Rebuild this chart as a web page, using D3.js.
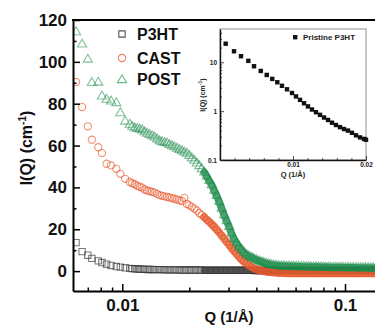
<!DOCTYPE html>
<html>
<head>
<meta charset="utf-8">
<script src="https://cdn.jsdelivr.net/npm/d3@7"></script>
<style>
body { margin: 0; background: #fff; }
text { font-family: Arial, "Liberation Sans", sans-serif; font-weight: bold; }
</style>
</head>
<body>
<svg id="chart" width="375" height="325"></svg>
<script>
// main plot data, Q in 1/A
var q = [0.0062, 0.0066, 0.0070, 0.0073, 0.0078, 0.0081, 0.0085, 0.0089, 0.0094, 0.0098, 0.0103,
    0.0108, 0.01108, 0.01137, 0.01167, 0.01197, 0.01228, 0.0126, 0.01293, 0.01326, 0.01361,
    0.01396, 0.01433, 0.0147, 0.01508, 0.01547, 0.01588, 0.01629, 0.01671, 0.01715, 0.0176,
    0.01805, 0.01852, 0.019, 0.0195, 0.02, 0.02052, 0.02106, 0.02161, 0.02217, 0.02274,
    0.02334, 0.02394, 0.02457, 0.02521, 0.02586, 0.02653, 0.02722, 0.02793, 0.02866, 0.0294,
    0.03017, 0.03095, 0.03176, 0.03258, 0.03343, 0.0343, 0.03519, 0.03611, 0.03705, 0.03801,
    0.039, 0.04001, 0.04105, 0.04212, 0.04322, 0.04434, 0.04549, 0.04668, 0.04789, 0.04914,
    0.05041, 0.05172, 0.05307, 0.05445, 0.05586, 0.05732, 0.05881, 0.06034, 0.06191, 0.06352,
    0.06517, 0.06686, 0.0686, 0.07038, 0.07221, 0.07409, 0.07602, 0.078, 0.08003, 0.08211,
    0.08424, 0.08643, 0.08868, 0.09099, 0.09335, 0.09578, 0.09827, 0.10082, 0.10344, 0.10613,
    0.10889, 0.11172, 0.11463, 0.11761, 0.12067, 0.1238, 0.12702, 0.13033, 0.13372, 0.1372];

var p3ht = [13.6, 9.3, 7.6, 6.1, 4.9, 4.1, 3.3, 2.7, 2.2, 1.9, 1.6,
    1.3, 1.2, 1.1, 1.0, 1.0, 0.9, 0.9, 0.8, 0.8, 0.8,
    0.7, 0.7, 0.7, 0.7, 0.6, 0.6, 0.6, 0.6, 0.6, 0.6,
    0.5, 0.5, 0.5, 0.5, 0.5, 0.5, 0.5, 0.5, 0.5, 0.5,
    0.4, 0.4, 0.4, 0.4, 0.4, 0.4, 0.4, 0.4, 0.4, 0.4,
    0.4, 0.4, 0.4, 0.4, 0.4, 0.4, 0.4, 0.4, 0.4, 0.4,
    0.3, 0.3, 0.3, 0.3, 0.3, 0.3, 0.3, 0.3, 0.3, 0.3,
    0.3, 0.3, 0.3, 0.3, 0.3, 0.3, 0.3, 0.3, 0.3, 0.3,
    0.3, 0.3, 0.3, 0.3, 0.3, 0.3, 0.3, 0.3, 0.3, 0.3,
    0.3, 0.3, 0.3, 0.3, 0.3, 0.3, 0.3, 0.3, 0.3, 0.3,
    0.3, 0.3, 0.3, 0.3, 0.3, 0.3, 0.3, 0.3, 0.3, 0.3];

var cast = [90.4, 78.4, 69.2, 62.8, 59.2, 56.4, 51.3, 50.5, 48.9, 46.5, 44.1,
    42.6, 42.0, 41.5, 40.8, 40.3, 39.9, 39.0, 38.5, 38.2, 37.9,
    37.5, 36.9, 36.3, 36.0, 35.7, 35.5, 35.2, 34.9, 34.6, 34.2,
    33.8, 33.5, 35.0, 32.1, 31.4, 30.7, 29.9, 28.9, 27.8, 26.8,
    25.8, 24.6, 23.6, 22.4, 21.2, 19.9, 18.5, 17.0, 15.5, 14.0,
    12.6, 11.0, 9.6, 8.2, 6.8, 5.5, 4.5, 3.6, 2.8, 2.0,
    1.4, 0.9, 0.5, 0.2, 0.0, -0.2, -0.4, -0.5, -0.6, -0.7,
    -0.8, -0.8, -0.9, -0.9, -1.0, -1.0, -1.0, -1.0, -1.0, -1.0,
    -1.0, -1.0, -1.0, -1.0, -1.0, -1.0, -1.0, -1.0, -1.0, -1.0,
    -1.0, -1.0, -1.0, -1.0, -1.0, -1.0, -1.0, -1.0, -1.0, -1.0,
    -1.0, -1.0, -1.0, -1.0, -1.0, -1.0, -1.0, -1.0, -1.0, -1.0];

var post = [114.7, 108.8, 101.6, 90.4, 90.6, 84.0, 82.4, 81.6, 80.8, 76.0, 72.0,
    70.5, 69.5, 68.8, 68.5, 68.2, 67.8, 66.9, 66.2, 65.6, 65.0,
    64.4, 63.5, 62.6, 62.2, 61.8, 61.5, 60.8, 60.2, 59.7, 59.1,
    58.5, 57.8, 57.2, 56.6, 55.6, 54.4, 53.3, 52.0, 50.7, 49.3,
    47.7, 45.8, 43.6, 41.6, 39.0, 36.5, 33.6, 30.4, 27.3, 24.4,
    21.6, 18.5, 15.9, 13.9, 12.1, 10.6, 9.3, 8.3, 7.6, 7.0,
    6.4, 5.8, 5.3, 4.9, 4.5, 4.1, 3.8, 3.5, 3.3, 3.1,
    3.0, 2.9, 2.9, 2.8, 2.8, 2.7, 2.7, 2.6, 2.6, 2.6,
    2.5, 2.5, 2.5, 2.4, 2.4, 2.4, 2.4, 2.3, 2.3, 2.3,
    2.3, 2.2, 2.2, 2.2, 2.2, 2.2, 2.1, 2.1, 2.1, 2.1,
    2.1, 2.0, 2.0, 2.0, 2.0, 2.0, 2.0, 1.9, 1.9, 1.9];

var xMajor = [0.01, 0.1];
var xMinor = [0.007, 0.008, 0.009, 0.02, 0.03, 0.04, 0.05, 0.06, 0.07, 0.08, 0.09];
var yMajor = [0, 20, 40, 60, 80, 100, 120];
var yMinor = [10, 30, 50, 70, 90, 110];

// inset data (pristine P3HT)
var insetQ = [0.00078, 0.00192, 0.00288, 0.00388, 0.00466, 0.00558, 0.0064, 0.00716, 0.00785,
    0.00849, 0.00918, 0.00986, 0.01041, 0.01096, 0.01151, 0.01205, 0.0126, 0.01315, 0.0137,
    0.01425, 0.0148, 0.01534, 0.01589, 0.01644, 0.01699, 0.01753, 0.01808, 0.01863, 0.01918,
    0.01973, 0.0200];
var insetI = [24, 16.8, 13.3, 10.7, 8.3, 6.65, 5.5, 4.57, 3.9,
    3.3, 2.8, 2.35, 2.0, 1.7, 1.45, 1.25, 1.08, 0.95, 0.84,
    0.74, 0.66, 0.58, 0.52, 0.47, 0.43, 0.40, 0.36, 0.32, 0.29,
    0.27, 0.26];
var insetXMajor = [0.01, 0.02];
var insetXMinor = [0.002, 0.004, 0.006, 0.008, 0.012, 0.014, 0.016, 0.018];
var insetYMajor = [0.1, 1, 10];
var insetYMinor = [0.2, 0.3, 0.4, 0.5, 0.6, 0.7, 0.8, 0.9, 2, 3, 4, 5, 6, 7, 8, 9, 20, 30, 40];

var svg = d3.select("#chart");

var pL = 73, pR = 375, pT = 20, pB = 291;
// above this Q the measured points sit so close that they merge into a band
var denseFrom = 0.023;

var x = d3.scaleLog().domain([0.006007, 0.13637]).range([pL, pR]);
var y = d3.scaleLinear().domain([-9.5, 120]).range([pB, pT]);

svg.append("clipPath").attr("id", "clip")
    .append("rect").attr("x", pL).attr("y", pT - 10)
    .attr("width", pR - pL + 5).attr("height", pB - pT + 10);

var plot = svg.append("g").attr("clip-path", "url(#clip)");

var sq = d3.symbol(d3.symbolSquare).size(40);
var tri = d3.symbol(d3.symbolTriangle).size(36);

function pts(vals) {
    return q.map(function(d, i) { return { q: d, v: vals[i] }; });
}

function band(vals, color, width, dy) {
    var line = d3.line()
        .x(function(d) { return x(d.q); })
        .y(function(d) { return y(d.v) + dy; })
        .curve(d3.curveMonotoneX);
    plot.append("path")
        .datum(pts(vals).filter(function(d) { return d.q >= denseFrom; }))
        .attr("d", line)
        .attr("fill", "none")
        .attr("stroke", color)
        .attr("stroke-width", width)
        .attr("stroke-linecap", "round")
        .attr("stroke-opacity", 0.8);
}

// P3HT squares
band(p3ht, "#4a4a4a", 6.5, 0);
plot.append("g").selectAll("path")
    .data(pts(p3ht))
    .enter().append("path")
    .attr("d", sq)
    .attr("transform", function(d) { return "translate(" + x(d.q) + "," + y(d.v) + ")"; })
    .attr("fill", "none")
    .attr("stroke", "#333")
    .attr("stroke-opacity", 0.65)
    .attr("stroke-width", 1.1);

// CAST circles
band(cast, "#e5602f", 7, 0);
plot.append("g").selectAll("circle")
    .data(pts(cast))
    .enter().append("circle")
    .attr("cx", function(d) { return x(d.q); })
    .attr("cy", function(d) { return y(d.v); })
    .attr("r", 3.6)
    .attr("fill", "none")
    .attr("stroke", "#e8552a")
    .attr("stroke-opacity", 0.65)
    .attr("stroke-width", 1.1);

// POST triangles
band(post, "#1f8c4c", 7.5, 1);
plot.append("g").selectAll("path")
    .data(pts(post))
    .enter().append("path")
    .attr("d", tri)
    .attr("transform", function(d) { return "translate(" + x(d.q) + "," + (y(d.v) + 1) + ")"; })
    .attr("fill", "none")
    .attr("stroke", "#1a8a48")
    .attr("stroke-opacity", 0.55)
    .attr("stroke-width", 1.1);

// axes
var gx = svg.append("g").attr("transform", "translate(0," + pB + ")");
gx.call(d3.axisBottom(x).tickValues(xMinor).tickSizeInner(-3.5).tickSizeOuter(0).tickFormat(""));
gx.select(".domain").remove();
var gx2 = svg.append("g").attr("transform", "translate(0," + pB + ")");
gx2.call(d3.axisBottom(x).tickValues(xMajor).tickSizeInner(-7).tickSizeOuter(0)
    .tickPadding(8).tickFormat(d3.format("~g")));

var gy = svg.append("g").attr("transform", "translate(" + pL + ",0)");
gy.call(d3.axisLeft(y).tickValues(yMinor).tickSizeInner(-3.5).tickSizeOuter(0).tickFormat(""));
gy.select(".domain").remove();
var gy2 = svg.append("g").attr("transform", "translate(" + pL + ",0)");
gy2.call(d3.axisLeft(y).tickValues(yMajor).tickSizeInner(-7).tickSizeOuter(0).tickPadding(6));

svg.selectAll(".tick line").attr("stroke", "#000").attr("stroke-width", 1.5);
svg.selectAll(".domain").attr("stroke", "#000").attr("stroke-width", 2);
gx2.selectAll("text").attr("font-size", 17).attr("fill", "#111");
gy2.selectAll("text").attr("font-size", 17).attr("fill", "#111");

svg.append("line")
    .attr("x1", pL - 1).attr("x2", pR + 2)
    .attr("y1", pT).attr("y2", pT)
    .attr("stroke", "#000").attr("stroke-width", 2);

// axis titles
var yl = svg.append("text")
    .attr("transform", "translate(32,148) rotate(-90)")
    .attr("text-anchor", "middle")
    .attr("font-size", 16)
    .attr("fill", "#111");
yl.append("tspan").text("I(Q) (cm");
yl.append("tspan").attr("font-size", 10).attr("dy", -6).text("-1");
yl.append("tspan").attr("dy", 6).text(")");

svg.append("text")
    .attr("x", 229).attr("y", 322)
    .attr("text-anchor", "middle")
    .attr("font-size", 15)
    .attr("fill", "#111")
    .text("Q (1/Å)");

// legend
var legend = [
    { name: "P3HT", y: 34 },
    { name: "CAST", y: 58 },
    { name: "POST", y: 79 }
];
var lg = svg.append("g");
lg.append("path").attr("d", sq)
    .attr("transform", "translate(122," + legend[0].y + ")")
    .attr("fill", "none").attr("stroke", "#555").attr("stroke-width", 1.1);
lg.append("circle").attr("cx", 122).attr("cy", legend[1].y).attr("r", 3.6)
    .attr("fill", "none").attr("stroke", "#ee7a58").attr("stroke-width", 1.1);
lg.append("path").attr("d", tri)
    .attr("transform", "translate(122," + (legend[2].y + 1) + ")")
    .attr("fill", "none").attr("stroke", "#6cbc84").attr("stroke-width", 1.1);
lg.selectAll("text")
    .data(legend)
    .enter().append("text")
    .attr("x", 137)
    .attr("y", function(d) { return d.y + 6; })
    .attr("font-size", 16)
    .attr("fill", "#111")
    .text(function(d) { return d.name; });

// inset
var iL = 220, iR = 366, iT = 29, iB = 160;
var ix = d3.scaleLinear().domain([0, 0.02]).range([iL, iR]);
var iy = d3.scaleLog().domain([0.1, 48]).range([iB, iT]);

var inset = svg.append("g");
inset.append("rect")
    .attr("x", iL).attr("y", iT)
    .attr("width", iR - iL).attr("height", iB - iT)
    .attr("fill", "#fff")
    .attr("stroke", "#777")
    .attr("stroke-width", 0.8);

inset.append("g").selectAll("rect")
    .data(insetQ.map(function(d, i) { return { q: d, v: insetI[i] }; }))
    .enter().append("rect")
    .attr("x", function(d) { return ix(d.q) - 2.2; })
    .attr("y", function(d) { return iy(d.v) - 2.2; })
    .attr("width", 4.4).attr("height", 4.4)
    .attr("fill", "#111");

var igx = inset.append("g").attr("transform", "translate(0," + iB + ")");
igx.call(d3.axisBottom(ix).tickValues(insetXMinor).tickSizeInner(-2).tickSizeOuter(0).tickFormat(""));
igx.select(".domain").remove();
var igx2 = inset.append("g").attr("transform", "translate(0," + iB + ")");
igx2.call(d3.axisBottom(ix).tickValues(insetXMajor).tickSizeInner(-4).tickSizeOuter(0)
    .tickPadding(2).tickFormat(d3.format("~g")));

var igy = inset.append("g").attr("transform", "translate(" + iL + ",0)");
igy.call(d3.axisLeft(iy).tickValues(insetYMinor).tickSizeInner(-2).tickSizeOuter(0).tickFormat(""));
igy.select(".domain").remove();
var igy2 = inset.append("g").attr("transform", "translate(" + iL + ",0)");
igy2.call(d3.axisLeft(iy).tickValues(insetYMajor).tickSizeInner(-4).tickSizeOuter(0)
    .tickPadding(3).tickFormat(d3.format("~g")));

inset.selectAll(".tick line").attr("stroke", "#222").attr("stroke-width", 0.8);
inset.selectAll(".domain").attr("stroke", "#111").attr("stroke-width", 1.4);
inset.selectAll(".tick text").attr("font-size", 6.5).attr("fill", "#222");

var iyl = inset.append("text")
    .attr("transform", "translate(205,95) rotate(-90)")
    .attr("text-anchor", "middle")
    .attr("font-size", 7)
    .attr("fill", "#222");
iyl.append("tspan").text("I(Q) (cm");
iyl.append("tspan").attr("font-size", 5).attr("dy", -3).text("-1");
iyl.append("tspan").attr("dy", 3).text(")");

inset.append("text")
    .attr("x", 293).attr("y", 177)
    .attr("text-anchor", "middle")
    .attr("font-size", 7.5)
    .attr("fill", "#222")
    .text("Q (1/Å)");

inset.append("rect")
    .attr("x", 293).attr("y", 35)
    .attr("width", 4.4).attr("height", 4.4)
    .attr("fill", "#111");
inset.append("text")
    .attr("x", 303).attr("y", 40)
    .attr("font-size", 8)
    .attr("fill", "#222")
    .text("Pristine P3HT");
</script>
</body>
</html>
